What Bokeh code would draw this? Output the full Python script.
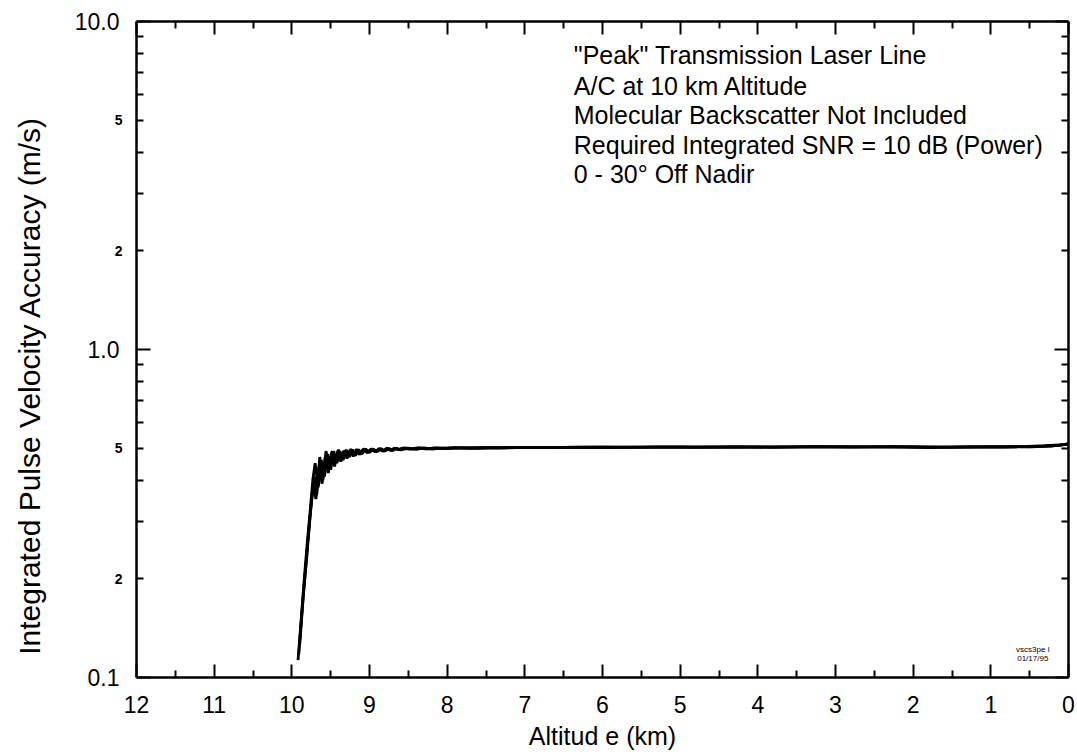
import math
from bokeh.plotting import figure
from bokeh.models import (LinearAxis, LogAxis, FixedTicker, Range1d, Label)
from bokeh.embed import file_html
from bokeh.resources import INLINE

# ---------------- data ----------------
x_major = [0, 1, 2, 3, 4, 5, 6, 7, 8, 9, 10, 11, 12]
x_minor = [0.5, 1.5, 2.5, 3.5, 4.5, 5.5, 6.5, 7.5, 8.5, 9.5, 10.5, 11.5]
y_major = [0.1, 1.0, 10.0]
y_major_labels = {0.1: "0.1", 1.0: "1.0", 10.0: "10.0"}
y_minor = [0.2, 0.3, 0.4, 0.5, 0.6, 0.7, 0.8, 0.9, 2, 3, 4, 5, 6, 7, 8, 9]
y_small_label_vals = [0.2, 0.5, 2, 5]
y_small_label_text = ["2", "5", "2", "5"]

# curve A
alt_a = [9.92, 9.88, 9.84, 9.80, 9.76, 9.73, 9.70, 9.66, 9.62, 9.58, 9.54, 9.50,
         9.46, 9.42, 9.38, 9.34, 9.30, 9.26, 9.22, 9.18, 9.14, 9.10, 9.05, 9.00,
         8.95, 8.90, 8.85, 8.80, 8.75, 8.70, 8.65, 8.60, 8.50, 8.40, 8.30, 8.20,
         8.10, 8.00, 7.80, 7.60, 7.40, 7.20, 7.00, 6.50, 6.00, 5.50, 5.00, 4.50,
         4.00, 3.50, 3.00, 2.50, 2.00, 1.50, 1.00, 0.50, 0.20, 0.00]
acc_a = [0.113, 0.15, 0.20, 0.26, 0.33, 0.40, 0.45, 0.38, 0.46, 0.41, 0.48, 0.43,
         0.49, 0.45, 0.49, 0.46, 0.495, 0.47, 0.495, 0.475, 0.495, 0.48, 0.497, 0.485,
         0.497, 0.488, 0.498, 0.49, 0.499, 0.492, 0.50, 0.494, 0.50, 0.496, 0.501, 0.497,
         0.50, 0.499, 0.501, 0.50, 0.502, 0.501, 0.503, 0.503, 0.504, 0.503, 0.505, 0.504,
         0.505, 0.505, 0.506, 0.505, 0.506, 0.503, 0.506, 0.505, 0.508, 0.515]
# curve B
alt_b = [9.91, 9.86, 9.81, 9.77, 9.74, 9.71, 9.68, 9.64, 9.60, 9.56, 9.52, 9.48,
         9.44, 9.40, 9.36, 9.32, 9.28, 9.24, 9.20, 9.16, 9.12, 9.07, 9.02, 8.97,
         8.92, 8.87, 8.82, 8.77, 8.72, 8.67, 8.62, 8.55, 8.45, 8.35, 8.25, 8.15,
         8.05, 7.90, 7.70, 7.50, 7.30, 7.10, 6.80, 6.30, 5.80, 5.30, 4.80, 4.30,
         3.80, 3.30, 2.80, 2.30, 1.80, 1.30, 0.80, 0.40, 0.10, 0.00]
acc_b = [0.118, 0.17, 0.23, 0.30, 0.36, 0.41, 0.36, 0.47, 0.40, 0.49, 0.44, 0.49,
         0.45, 0.495, 0.46, 0.49, 0.47, 0.497, 0.475, 0.496, 0.48, 0.498, 0.486, 0.498,
         0.488, 0.499, 0.49, 0.50, 0.492, 0.50, 0.495, 0.501, 0.497, 0.501, 0.498, 0.501,
         0.499, 0.502, 0.500, 0.502, 0.501, 0.503, 0.502, 0.504, 0.503, 0.505, 0.503, 0.505,
         0.503, 0.506, 0.504, 0.506, 0.502, 0.505, 0.504, 0.506, 0.511, 0.516]
# curve C
alt_c = [9.90, 9.85, 9.80, 9.76, 9.72, 9.69, 9.65, 9.61, 9.57, 9.53, 9.49, 9.45,
         9.41, 9.37, 9.33, 9.29, 9.25, 9.21, 9.17, 9.13, 9.08, 9.03, 8.98, 8.93,
         8.88, 8.83, 8.78, 8.73, 8.68, 8.63, 8.58, 8.48, 8.38, 8.28, 8.18, 8.08,
         7.95, 7.75, 7.55, 7.35, 7.15, 6.90, 6.40, 5.90, 5.40, 4.90, 4.40, 3.90,
         3.40, 2.90, 2.40, 1.90, 1.40, 0.90, 0.60, 0.30, 0.00]
acc_c = [0.125, 0.18, 0.25, 0.32, 0.39, 0.35, 0.44, 0.39, 0.47, 0.42, 0.485, 0.44,
         0.49, 0.455, 0.492, 0.465, 0.494, 0.472, 0.496, 0.478, 0.497, 0.484, 0.497, 0.487,
         0.498, 0.49, 0.499, 0.493, 0.50, 0.495, 0.50, 0.497, 0.501, 0.498, 0.50, 0.50,
         0.501, 0.501, 0.502, 0.501, 0.503, 0.502, 0.503, 0.504, 0.504, 0.504, 0.505, 0.504,
         0.505, 0.505, 0.505, 0.504, 0.505, 0.505, 0.506, 0.509, 0.514]

note_lines = ['"Peak" Transmission Laser Line',
              "A/C at 10 km Altitude",
              "Molecular Backscatter Not Included",
              "Required Integrated SNR = 10 dB (Power)",
              "0 - 30\u00b0 Off Nadir"]
note_y = [7.88, 6.38, 5.17, 4.19, 3.44]
note_x = 6.37
stamp_lines = ["vscs3pe l", "01/17/95"]
stamp_y = [0.1215, 0.1145]
stamp_x = 0.46
y_title = "Integrated Pulse Velocity Accuracy (m/s)"
y_title_at = 0.7766

FONT = "Liberation Sans"

# frame geometry (canvas pixels)
FL, FT, FW, FH = 136, 21, 932, 656
Y0, Y1 = 0.1, 10.0


def canvas_y(v):
    return FT + FH * (math.log10(Y1) - math.log10(v)) / (math.log10(Y1) - math.log10(Y0))


p = figure(frame_width=FW, frame_height=FH,
           x_range=Range1d(12, 0), y_range=Range1d(Y0, Y1),
           y_axis_type="log", x_axis_location=None, y_axis_location=None,
           output_backend="svg", toolbar_location=None,
           min_border_left=FL, min_border_right=9, min_border_top=FT,
           min_border_bottom=78, background_fill_color="white",
           border_fill_color="white", outline_line_color=None)
p.grid.visible = False


def style_axis(ax):
    ax.axis_line_width = 2.5
    ax.axis_line_color = "black"
    ax.major_tick_line_width = 2
    ax.minor_tick_line_width = 2
    ax.major_tick_line_color = "black"
    ax.minor_tick_line_color = "black"
    ax.major_tick_out = 0
    ax.minor_tick_out = 0
    ax.major_label_text_font = FONT
    ax.major_label_text_color = "black"
    ax.axis_label_text_font = FONT
    ax.axis_label_text_font_style = "normal"
    ax.axis_label_text_color = "black"


xt = FixedTicker(ticks=x_major, minor_ticks=x_minor)
yt = FixedTicker(ticks=y_major, minor_ticks=y_minor)

xb = LinearAxis(ticker=xt, axis_label="Altitud e (km)")
style_axis(xb)
xb.major_tick_in = 13
xb.minor_tick_in = 7
xb.major_label_text_font_size = "23px"
xb.major_label_standoff = 18
xb.axis_label_text_font_size = "25px"
xb.axis_label_standoff = 6
p.add_layout(xb, "below")

xa = LinearAxis(ticker=xt)
style_axis(xa)
xa.major_tick_in = 13
xa.minor_tick_in = 7
xa.major_label_overrides = {v: "" for v in x_major}
xa.major_label_standoff = 0
p.add_layout(xa, "above")

yl = LogAxis(ticker=yt)
style_axis(yl)
yl.major_tick_in = 14
yl.minor_tick_in = 7
yl.major_label_overrides = y_major_labels
yl.major_label_text_font_size = "23px"
yl.major_label_standoff = 17
p.add_layout(yl, "left")

yr = LogAxis(ticker=yt)
style_axis(yr)
yr.major_tick_in = 14
yr.minor_tick_in = 7
yr.major_label_overrides = {v: "" for v in y_major}
yr.major_label_standoff = 0
p.add_layout(yr, "right")

for xs, ys in ((alt_a, acc_a), (alt_b, acc_b), (alt_c, acc_c)):
    p.line(xs, ys, line_color="black", line_width=2.8)

for v, t in zip(y_small_label_vals, y_small_label_text):
    p.add_layout(Label(x=FL - 14, y=canvas_y(v), x_units="canvas", y_units="canvas",
                       text=t, text_align="right",
                       text_baseline="middle", text_font=FONT,
                       text_font_size="14px", text_font_style="bold",
                       text_color="black"), "left")

p.add_layout(Label(x=29, y=canvas_y(y_title_at), x_units="canvas", y_units="canvas",
                   text=y_title, angle=math.pi / 2, text_align="center",
                   text_baseline="middle", text_font=FONT,
                   text_font_size="30px", text_color="black"), "left")

for t, y in zip(note_lines, note_y):
    p.add_layout(Label(x=note_x, y=y, text=t, text_align="left",
                       text_baseline="middle", text_font=FONT,
                       text_font_size="25px", text_color="black"))

for t, y in zip(stamp_lines, stamp_y):
    p.add_layout(Label(x=stamp_x, y=y, text=t, text_align="center",
                       text_baseline="middle", text_font=FONT,
                       text_font_size="8px", text_color="black"))

open("out.html", "w").write(file_html(p, INLINE))
